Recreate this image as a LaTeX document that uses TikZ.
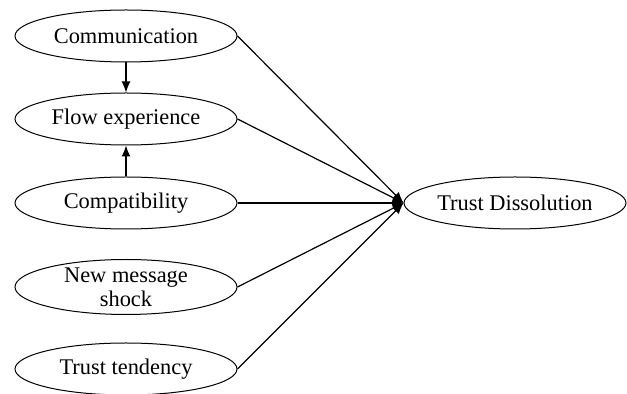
\documentclass[tikz,border=0pt]{standalone}
\usepackage{fontspec}
\setmainfont{Liberation Serif}
\usepackage{tikz}
\usetikzlibrary{arrows}
\usetikzlibrary{arrows.meta}
\usetikzlibrary{shapes.geometric}
\tikzstyle{graph}=[x=0.5pt, y=-0.5pt, font=\fontsize{11.2}{12}\selectfont]
\tikzstyle{factor}=[ellipse, draw, line width=0.5pt, fill=white, inner sep=0pt, minimum width=111pt, minimum height=26pt, align=center]
\tikzstyle{edge}=[line width=0.6pt, -{Latex[length=5.5pt, width=4.5pt]}]
\begin{document}
\begin{tikzpicture}[graph]
	\useasboundingbox (0,0) rectangle (627,394);
	\draw (126,36) node[factor] (comm) {Communication};
	\draw (126,119) node[factor] (flow) {Flow experience};
	\draw (126,203) node[factor] (compat) {Compatibility};
	\draw (126,287) node[factor] (shock) {New message\\shock};
	\draw (126,369) node[factor] (tend) {Trust tendency};
	\draw (515,203) node[factor] (diss) {Trust Dissolution};
	\draw[edge] (comm) -- (flow);
	\draw[edge] (compat) -- (flow);
	\draw[edge] (comm.east) -- (diss.west);
	\draw[edge] (flow.east) -- (diss.west);
	\draw[edge] (compat.east) -- (diss.west);
	\draw[edge] (shock.east) -- (diss.west);
	\draw[edge] (tend.east) -- (diss.west);
\end{tikzpicture}
\end{document}
